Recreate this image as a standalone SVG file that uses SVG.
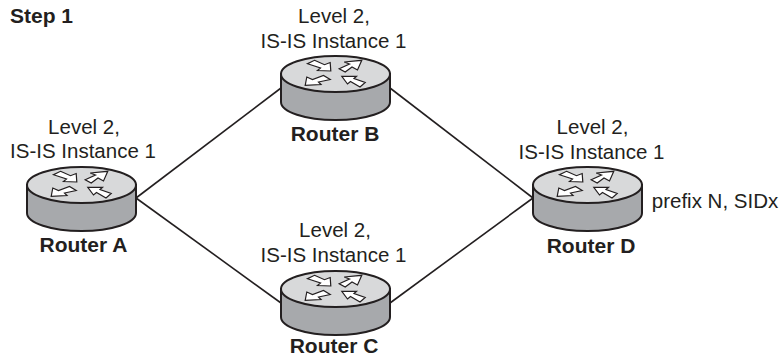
<svg xmlns="http://www.w3.org/2000/svg" width="782" height="358" viewBox="0 0 782 358">
<style>
text{font-family:"Liberation Sans",Arial,sans-serif;font-size:20.500px;fill:#231f20;text-anchor:middle}
.b{font-weight:bold;font-size:21px}
.l{fill:none;stroke:#231f20;stroke-width:1.6}
.s{fill:#a7a9ac;stroke:#231f20;stroke-width:2}
.t{fill:#d8d9da;stroke:#231f20;stroke-width:2}
.a{fill:#fff;stroke:#231f20;stroke-width:1.2;stroke-linejoin:miter}
</style>
<defs>
<g id="router">
<path class="s" d="M-54.500 0V28A54.500 18 0 0 0 54.500 28V0Z"/>
<ellipse class="t" cx="0" cy="0" rx="54.500" ry="18"/>
<path class="a" d="M-21 -13.700L-11 -9.300L-5.300 -11.500L-4.700 -3L-18 -3.500L-15 -6L-28 -10.300Z"/>
<path class="a" d="M26.300 -13.700L22 -4L16.500 -7L9.700 -2L3.700 -5.300L14 -10L8.700 -12Z"/>
<path class="a" d="M-30.300 11.300L-28.700 3L-23 5.500L-12 1.500L-5.300 5.500L-17 8L-14.500 10.500Z"/>
<path class="a" d="M6.300 2.300L21 2.300L18.500 4.500L29.700 8.500L24.500 13L15 7.500L12 10Z"/>
</g>
</defs>
<g id="connectors">
<path class="l" d="M136 198L281 88"/>
<path class="l" d="M136 198L281 303"/>
<path class="l" d="M390 88L533 198"/>
<path class="l" d="M390 303L533 198"/>
</g>
<text class="b" x="41.500" y="23">Step 1</text>
<g id="router-a"><use href="#router" x="81.500" y="185"/><text class="b" x="83.500" y="252">Router A</text><text x="84" y="134">Level 2,</text><text x="83" y="158">IS-IS Instance 1</text></g>
<g id="router-b"><use href="#router" x="335.500" y="74"/><text class="b" x="335" y="141">Router B</text><text x="334" y="23">Level 2,</text><text x="333.500" y="47.500">IS-IS Instance 1</text></g>
<g id="router-c"><use href="#router" x="335.500" y="289"/><text class="b" x="334" y="353">Router C</text><text x="335" y="237">Level 2,</text><text x="333.500" y="261.500">IS-IS Instance 1</text></g>
<g id="router-d"><use href="#router" x="587.500" y="185"/><text class="b" x="591" y="253">Router D</text><text x="592.500" y="134">Level 2,</text><text x="591.500" y="159">IS-IS Instance 1</text><text x="715" y="208">prefix N, SIDx</text></g>
</svg>
